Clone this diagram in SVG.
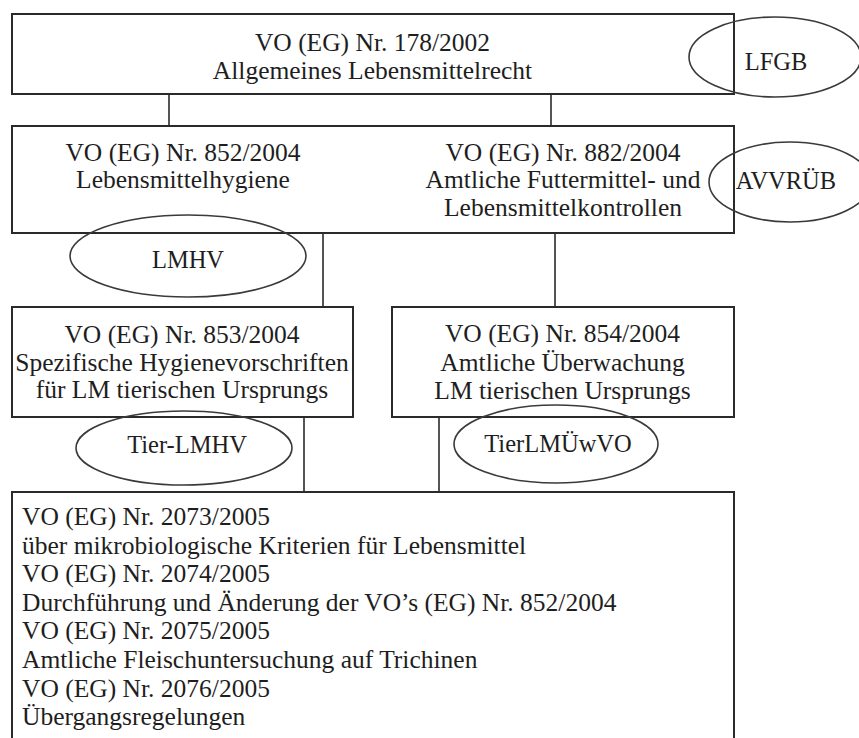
<svg xmlns="http://www.w3.org/2000/svg" width="859" height="738" viewBox="0 0 859 738">
<style>
.box{fill:none;stroke:#2a2a2a;stroke-width:2}
.ell{fill:none;stroke:#3a3a3a;stroke-width:1.6}
.ln{stroke:#2a2a2a;stroke-width:1.6}
text{font-family:"Liberation Serif","Times New Roman",serif;font-size:25.5px;fill:#1e1e1e}
.c{text-anchor:middle}
.lb{font-size:24.5px}
</style>
<rect width="859" height="738" fill="#fff"/>
<g id="connectors">
<line class="ln" x1="169" y1="94" x2="169" y2="126"/>
<line class="ln" x1="551" y1="94" x2="551" y2="126"/>
<line class="ln" x1="323" y1="233" x2="323" y2="307"/>
<line class="ln" x1="555" y1="233" x2="555" y2="307"/>
<line class="ln" x1="304" y1="417" x2="304" y2="492"/>
<line class="ln" x1="439" y1="417" x2="439" y2="492"/>
</g>
<g id="n178">
<rect class="box" x="12" y="14" width="722" height="80"/>
<text class="c" x="372.5" y="51">VO (EG) Nr. 178/2002</text>
<text class="c" x="372.5" y="79">Allgemeines Lebensmittelrecht</text>
</g>
<g id="lfgb">
<ellipse class="ell" cx="775" cy="57" rx="86" ry="40"/>
<text class="c lb" x="776" y="70">LFGB</text>
</g>
<g id="n852">
<rect class="box" x="12" y="126" width="722" height="107"/>
<text class="c" x="183" y="161">VO (EG) Nr. 852/2004</text>
<text class="c" x="183" y="188">Lebensmittelhygiene</text>
<text class="c" x="563" y="161">VO (EG) Nr. 882/2004</text>
<text class="c" x="563" y="188">Amtliche Futtermittel- und</text>
<text class="c" x="563" y="216">Lebensmittelkontrollen</text>
</g>
<g id="avvrueb">
<ellipse class="ell" cx="790" cy="182" rx="81" ry="40"/>
<text class="c lb" x="786" y="189">AVVRÜB</text>
</g>
<g id="lmhv">
<ellipse class="ell" cx="188" cy="256" rx="118" ry="41"/>
<text class="c lb" x="188" y="268">LMHV</text>
</g>
<g id="n853">
<rect class="box" x="12" y="307" width="341" height="110"/>
<text class="c" x="182" y="343">VO (EG) Nr. 853/2004</text>
<text class="c" x="182" y="371">Spezifische Hygienevorschriften</text>
<text class="c" x="182" y="398">für LM tierischen Ursprungs</text>
</g>
<g id="n854">
<rect class="box" x="392" y="307" width="342" height="110"/>
<text class="c" x="562.5" y="342">VO (EG) Nr. 854/2004</text>
<text class="c" x="562.5" y="371">Amtliche Überwachung</text>
<text class="c" x="562.5" y="399">LM tierischen Ursprungs</text>
</g>
<g id="tierlmhv">
<ellipse class="ell" cx="184" cy="448" rx="108" ry="37"/>
<text class="c lb" x="187" y="453">Tier-LMHV</text>
</g>
<g id="tierlmuewvo">
<ellipse class="ell" cx="556" cy="444" rx="102" ry="39"/>
<text class="c lb" x="558" y="452">TierLMÜwVO</text>
</g>
<g id="n2073">
<rect class="box" x="12" y="492" width="722" height="260"/>
<text x="22" y="525">VO (EG) Nr. 2073/2005</text>
<text x="22" y="553.6">über mikrobiologische Kriterien für Lebensmittel</text>
<text x="22" y="582.2">VO (EG) Nr. 2074/2005</text>
<text x="22" y="610.8">Durchführung und Änderung der VO’s (EG) Nr. 852/2004</text>
<text x="22" y="639.4">VO (EG) Nr. 2075/2005</text>
<text x="22" y="668">Amtliche Fleischuntersuchung auf Trichinen</text>
<text x="22" y="696.6">VO (EG) Nr. 2076/2005</text>
<text x="22" y="725.2">Übergangsregelungen</text>
</g>
</svg>
